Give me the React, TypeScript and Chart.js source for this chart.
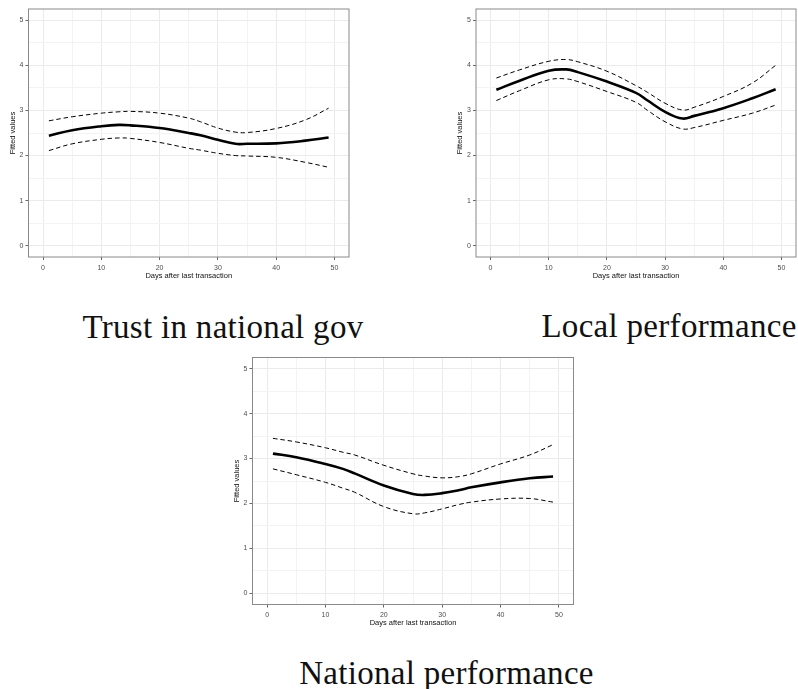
import React, { useEffect, useRef } from "react";
import { Chart, registerables } from "chart.js";

Chart.register(...registerables);

// Days after last transaction at which the fitted curves are sampled
const DAYS = [1, 5, 10, 13, 15, 20, 25, 27, 30, 33, 35, 40, 45, 49];

// Trust in national gov
const TRUST_FIT = [2.44, 2.56, 2.65, 2.68, 2.67, 2.61, 2.5, 2.45, 2.35, 2.26, 2.26, 2.27, 2.33, 2.4];
const TRUST_UPPER = [2.77, 2.86, 2.94, 2.97, 2.98, 2.94, 2.83, 2.75, 2.61, 2.52, 2.51, 2.6, 2.79, 3.05];
const TRUST_LOWER = [2.11, 2.26, 2.36, 2.39, 2.38, 2.29, 2.16, 2.12, 2.05, 2.0, 1.99, 1.96, 1.85, 1.74];

// Local performance
const LOCAL_FIT = [3.46, 3.66, 3.88, 3.91, 3.85, 3.64, 3.39, 3.22, 2.97, 2.82, 2.88, 3.05, 3.27, 3.47];
const LOCAL_UPPER = [3.72, 3.9, 4.09, 4.13, 4.08, 3.87, 3.55, 3.4, 3.16, 3.01, 3.07, 3.31, 3.61, 4.0];
const LOCAL_LOWER = [3.22, 3.44, 3.68, 3.7, 3.64, 3.42, 3.18, 3.0, 2.75, 2.59, 2.62, 2.78, 2.94, 3.12];

// National performance
const NATIONAL_FIT = [3.11, 3.03, 2.88, 2.77, 2.67, 2.4, 2.21, 2.19, 2.23, 2.3, 2.36, 2.47, 2.56, 2.6];
const NATIONAL_UPPER = [3.45, 3.37, 3.24, 3.14, 3.08, 2.85, 2.66, 2.61, 2.57, 2.6, 2.66, 2.88, 3.08, 3.31];
const NATIONAL_LOWER = [2.77, 2.64, 2.47, 2.34, 2.25, 1.93, 1.77, 1.79, 1.88, 1.98, 2.03, 2.1, 2.11, 2.03];

// Axis breaks (major + minor grid)
const X_BREAKS = [0, 5, 10, 15, 20, 25, 30, 35, 40, 45, 50];
const Y_BREAKS = [0, 0.5, 1, 1.5, 2, 2.5, 3, 3.5, 4, 4.5, 5];

const X_TITLE = "Days after last transaction";
const Y_TITLE = "Fitted values";

const SANS = "'Liberation Sans', Arial, Helvetica, sans-serif";

const panelBorder = {
  id: "panelBorder",
  afterDraw(chart: any) {
    const { ctx, chartArea } = chart;
    ctx.save();
    ctx.strokeStyle = "#8a8a8a";
    ctx.lineWidth = 1;
    ctx.strokeRect(chartArea.left, chartArea.top, chartArea.right - chartArea.left, chartArea.bottom - chartArea.top);
    ctx.restore();
  },
};

type Area = { left: number; top: number; width: number; height: number };

function Panel({ area, fit, upper, lower }: { area: Area; fit: number[]; upper: number[]; lower: number[] }) {
  const ref = useRef<HTMLCanvasElement | null>(null);

  const cx = Math.floor(area.left) - 42;
  const cy = Math.floor(area.top) - 12;
  const yAxisW = area.left - cx;
  const padTop = area.top - cy;
  const canvasW = Math.ceil(area.left + area.width) + 4 - cx;
  const padRight = canvasW - (area.left + area.width - cx);
  const canvasH = Math.ceil(area.top + area.height) + 33 - cy;
  const xAxisH = canvasH - (area.top + area.height - cy);

  useEffect(() => {
    if (!ref.current) return;
    const toPts = (vals: number[]) => DAYS.map((d, i) => ({ x: d, y: vals[i] }));
    const band = (vals: number[]) => ({
      data: toPts(vals),
      borderColor: "#000",
      borderWidth: 1,
      borderDash: [4.5, 3],
      pointRadius: 0,
      tension: 0.4,
      fill: false,
    });
    const chart = new Chart(ref.current, {
      type: "line",
      data: {
        datasets: [
          band(upper),
          band(lower),
          {
            data: toPts(fit),
            borderColor: "#000",
            borderWidth: 2.6,
            pointRadius: 0,
            tension: 0.4,
            fill: false,
          },
        ],
      },
      options: {
        responsive: false,
        animation: false,
        events: [],
        layout: { padding: { top: padTop, right: padRight, left: 0, bottom: 0 } },
        plugins: { legend: { display: false }, tooltip: { enabled: false } },
        scales: {
          x: {
            type: "linear",
            min: -2.5,
            max: 52.5,
            afterBuildTicks: (s: any) => {
              s.ticks = X_BREAKS.map((v) => ({ value: v }));
            },
            afterFit: (s: any) => {
              s.height = xAxisH;
            },
            ticks: {
              autoSkip: false,
              maxRotation: 0,
              padding: 3.8,
              color: "#4d4d4d",
              font: { family: SANS, size: 7 },
              callback: (v: any) => (Number(v) % 10 === 0 ? String(v) : ""),
            },
            grid: {
              color: (c: any) => (c.tick && c.tick.value % 10 === 0 ? "#ebebeb" : "#f3f3f3"),
              lineWidth: 1,
              tickLength: 3,
              tickColor: (c: any) => (c.tick && c.tick.value % 10 === 0 ? "#666" : "rgba(0,0,0,0)"),
            },
            border: { display: false },
            title: {
              display: true,
              text: X_TITLE,
              color: "#111",
              font: { family: SANS, size: 7.5 },
              padding: { top: 0, bottom: xAxisH - 23 },
            },
          },
          y: {
            type: "linear",
            min: -0.25,
            max: 5.25,
            afterBuildTicks: (s: any) => {
              s.ticks = Y_BREAKS.map((v) => ({ value: v }));
            },
            afterFit: (s: any) => {
              s.width = yAxisW;
            },
            ticks: {
              autoSkip: false,
              padding: 2.2,
              color: "#4d4d4d",
              font: { family: SANS, size: 7 },
              callback: (v: any) => (Number.isInteger(Number(v)) ? String(v) : ""),
            },
            grid: {
              color: (c: any) => (c.tick && Number.isInteger(c.tick.value) ? "#ebebeb" : "#f3f3f3"),
              lineWidth: 1,
              tickLength: 3,
              tickColor: (c: any) => (c.tick && Number.isInteger(c.tick.value) ? "#666" : "rgba(0,0,0,0)"),
            },
            border: { display: false },
            title: {
              display: true,
              text: Y_TITLE,
              color: "#111",
              font: { family: SANS, size: 7.5 },
              padding: { top: yAxisW - 20.5, bottom: 0 },
            },
          },
        },
      },
      plugins: [panelBorder],
    });
    return () => chart.destroy();
  }, []);

  return (
    <canvas
      ref={ref}
      width={canvasW}
      height={canvasH}
      style={{ position: "absolute", left: cx, top: cy, width: canvasW, height: canvasH }}
    />
  );
}

function Title({ text, center, baseline }: { text: string; center: number; baseline: number }) {
  return (
    <div
      style={{
        position: "absolute",
        left: center - 250,
        width: 500,
        top: baseline - 27.6,
        textAlign: "center",
        fontFamily: "'Liberation Serif', 'Times New Roman', serif",
        fontSize: 33,
        lineHeight: "33px",
        letterSpacing: 0.3,
        color: "#111",
        whiteSpace: "nowrap",
      }}
    >
      {text}
    </div>
  );
}

export default function App() {
  return (
    <div style={{ position: "absolute", left: 0, top: 0, width: 798, height: 689, background: "#fff", overflow: "hidden" }}>
      <Panel area={{ left: 28.5, top: 9, width: 320.5, height: 248 }} fit={TRUST_FIT} upper={TRUST_UPPER} lower={TRUST_LOWER} />
      <Panel area={{ left: 476, top: 9, width: 320, height: 248 }} fit={LOCAL_FIT} upper={LOCAL_UPPER} lower={LOCAL_LOWER} />
      <Panel
        area={{ left: 252.5, top: 357.5, width: 321, height: 247 }}
        fit={NATIONAL_FIT}
        upper={NATIONAL_UPPER}
        lower={NATIONAL_LOWER}
      />
      <Title text="Trust in national gov" center={223} baseline={338.3} />
      <Title text="Local performance" center={669} baseline={337.5} />
      <Title text="National performance" center={446.5} baseline={685} />
    </div>
  );
}
